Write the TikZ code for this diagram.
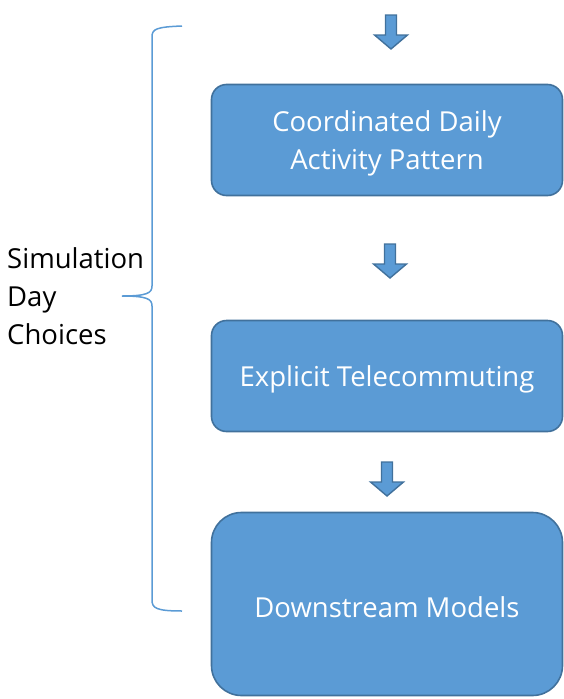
\documentclass[tikz,border=0pt]{standalone}
\usepackage{fontspec}
\setmainfont{Open Sans}
\definecolor{boxfill}{HTML}{5B9BD5}
\definecolor{boxline}{HTML}{41719C}
\begin{document}
\begin{tikzpicture}[x=1pt,y=1pt,
  stagebox/.style={draw=boxline, line width=1.6pt, fill=boxfill, text=white,
    minimum width=351pt, align=center, font=\fontsize{27.5}{38}\selectfont},
  downarrow/.style={draw=boxline, line width=1.4pt, fill=boxfill, line join=miter},
  bracket/.style={draw=boxfill, line width=1.5pt},
  lbl/.style={align=left, anchor=west, font=\fontsize{27.5}{38}\selectfont, inner sep=0pt}]
\useasboundingbox (0,0) rectangle (564,-699);
% the three model stages (extra text height lowers each label a little)
\node[stagebox, minimum height=111pt, rounded corners=15pt, text height=65pt] (cdap) at (387,-140)
  {Coordinated Daily\\Activity Pattern};
\node[stagebox, minimum height=111pt, rounded corners=15pt, text height=27pt] (tele) at (387,-376)
  {Explicit Telecommuting};
\node[stagebox, minimum height=183pt, rounded corners=30pt, text height=27pt] (down) at (387,-604)
  {Downstream Models};
% block arrows: shaft 11 wide, head 33 wide
\newcommand{\blockarrow}[3]{% x, top y, bottom y
  \draw[downarrow] (#1-5.5,#2) -- (#1+5.5,#2) -- (#1+5.5,#3+14) -- (#1+16.5,#3+14)
    -- (#1,#3) -- (#1-16.5,#3+14) -- (#1-5.5,#3+14) -- cycle;}
\blockarrow{391}{-15}{-49}
\blockarrow{390}{-244}{-278}
\blockarrow{387}{-462}{-496}
% bracket grouping the simulation day choices
\coordinate (btop) at (182,-26);
\coordinate (bmid) at (122,-296);
\coordinate (bbot) at (182,-611);
\draw[bracket] (btop) .. controls (156,-27) and (152,-29) .. (152,-37)
  -- (152,-286) .. controls (152,-293) and (147,-296) .. (bmid)
  .. controls (147,-296) and (152,-299) .. (152,-306)
  -- (152,-600) .. controls (152,-608) and (156,-611) .. (bbot);
\node[lbl] (sim) at (7,-296) {Simulation\\Day\\Choices};
\end{tikzpicture}
\end{document}
